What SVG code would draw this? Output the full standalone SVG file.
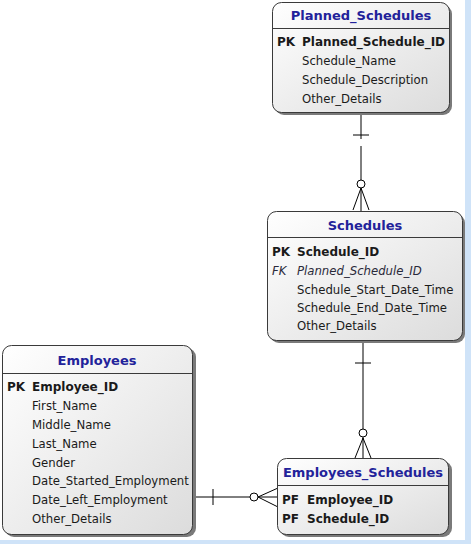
<svg xmlns="http://www.w3.org/2000/svg" width="471" height="544" viewBox="0 0 471 544">
<defs>
<linearGradient id="g" x1="0" y1="0" x2="1" y2="1">
<stop offset="0" stop-color="#ffffff"/>
<stop offset="1" stop-color="#dcdcdc"/>
</linearGradient>
<style>
.sh{fill:#7a7a7a;}
.box{fill:url(#g);stroke:#3a3a3a;stroke-width:1;}
.hl{stroke:#3a3a3a;stroke-width:1;}
.title{font-family:"DejaVu Sans",sans-serif;font-size:13px;font-weight:bold;fill:#22229a;text-anchor:middle;}
.k{font-family:"DejaVu Sans",sans-serif;font-size:12px;font-weight:bold;fill:#1a1a1a;}
.a{font-family:"DejaVu Sans",sans-serif;font-size:11.7px;fill:#1a1a1a;}
.fk{font-family:"DejaVu Sans",sans-serif;font-size:11.7px;font-style:italic;fill:#2a2a3a;}
.c{stroke:#000;stroke-width:1;fill:none;}
.o{stroke:#000;stroke-width:1;fill:#fff;}
</style>
</defs>
<rect x="0" y="0" width="471" height="544" fill="#fff"/>
<rect x="465" y="0" width="6" height="544" fill="#cfe3f8"/>
<rect x="0" y="540" width="471" height="4" fill="#cfe3f8"/>

<g id="connectors">
<line class="c" x1="361" y1="113" x2="361" y2="139"/>
<line class="c" x1="361" y1="146" x2="361" y2="211"/>
<line class="c" x1="353" y1="135" x2="369" y2="135"/>
<line class="c" x1="361" y1="188" x2="353" y2="210"/>
<line class="c" x1="361" y1="188" x2="369" y2="210"/>
<circle class="o" cx="361" cy="184" r="4"/>
<line class="c" x1="363" y1="341" x2="363" y2="459"/>
<line class="c" x1="355" y1="363" x2="371" y2="363"/>
<line class="c" x1="363" y1="438" x2="355" y2="458"/>
<line class="c" x1="363" y1="438" x2="371" y2="458"/>
<circle class="o" cx="363" cy="433" r="4"/>
<line class="c" x1="193" y1="497" x2="278" y2="497"/>
<line class="c" x1="213" y1="489" x2="213" y2="505"/>
<line class="c" x1="258" y1="497" x2="278" y2="488"/>
<line class="c" x1="258" y1="497" x2="278" y2="507"/>
<circle class="o" cx="254" cy="497" r="4"/>
</g>

<g id="Planned_Schedules">
<rect class="sh" x="275" y="5" width="177" height="110" rx="9"/>
<rect class="box" x="272.5" y="2.5" width="177" height="110" rx="9"/>
<line class="hl" x1="273" y1="28.5" x2="449" y2="28.5"/>
<text class="title" x="361" y="20">Planned_Schedules</text>
<text class="k" x="277" y="46">PK</text>
<text class="k" x="302" y="46">Planned_Schedule_ID</text>
<text class="a" x="302" y="65">Schedule_Name</text>
<text class="a" x="302" y="84">Schedule_Description</text>
<text class="a" x="302" y="103">Other_Details</text>
</g>

<g id="Schedules">
<rect class="sh" x="270" y="214" width="195" height="129" rx="9"/>
<rect class="box" x="267.5" y="211.5" width="195" height="129" rx="9"/>
<line class="hl" x1="268" y1="237.5" x2="462" y2="237.5"/>
<text class="title" x="365" y="230">Schedules</text>
<text class="k" x="272" y="256">PK</text>
<text class="k" x="297" y="256">Schedule_ID</text>
<text class="fk" x="272" y="275">FK</text>
<text class="fk" x="297" y="275">Planned_Schedule_ID</text>
<text class="a" x="297" y="293.5">Schedule_Start_Date_Time</text>
<text class="a" x="297" y="311.5">Schedule_End_Date_Time</text>
<text class="a" x="297" y="329.5">Other_Details</text>
</g>

<g id="Employees">
<rect class="sh" x="5" y="348" width="191" height="189" rx="9"/>
<rect class="box" x="2.5" y="345.5" width="190" height="189" rx="9"/>
<line class="hl" x1="3" y1="373.5" x2="192" y2="373.5"/>
<text class="title" x="97" y="365">Employees</text>
<text class="k" x="7" y="391">PK</text>
<text class="k" x="32" y="391">Employee_ID</text>
<text class="a" x="32" y="410">First_Name</text>
<text class="a" x="32" y="429">Middle_Name</text>
<text class="a" x="32" y="447.5">Last_Name</text>
<text class="a" x="32" y="466.5">Gender</text>
<text class="a" x="32" y="485">Date_Started_Employment</text>
<text class="a" x="32" y="504">Date_Left_Employment</text>
<text class="a" x="32" y="523">Other_Details</text>
</g>

<g id="Employees_Schedules">
<rect class="sh" x="280" y="461" width="172" height="76" rx="9"/>
<rect class="box" x="277.5" y="458.5" width="171" height="76" rx="9"/>
<line class="hl" x1="278" y1="485.5" x2="448" y2="485.5"/>
<text class="title" x="363" y="477">Employees_Schedules</text>
<text class="k" x="282" y="504">PF</text>
<text class="k" x="307" y="504">Employee_ID</text>
<text class="k" x="282" y="523">PF</text>
<text class="k" x="307" y="523">Schedule_ID</text>
</g>
</svg>
